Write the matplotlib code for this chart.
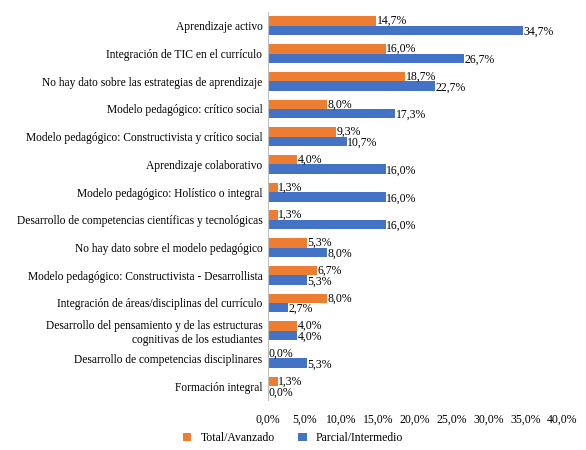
import matplotlib
matplotlib.use("Agg")
import matplotlib.pyplot as plt
import numpy as np
from matplotlib.ticker import FuncFormatter

plt.rcParams['font.family'] = ['Liberation Serif', 'DejaVu Serif']

categories = ["Aprendizaje activo", "Integración de TIC en el currículo",
              "No hay dato sobre las estrategias de aprendizaje", "Modelo pedagógico: crítico social",
              "Modelo pedagógico: Constructivista y crítico social", "Aprendizaje colaborativo",
              "Modelo pedagógico: Holístico o integral",
              "Desarrollo de competencias científicas y tecnológicas",
              "No hay dato sobre el modelo pedagógico",
              "Modelo pedagógico: Constructivista - Desarrollista",
              "Integración de áreas/disciplinas del currículo",
              "Desarrollo del pensamiento y de las estructuras\ncognitivas de los estudiantes",
              "Desarrollo de competencias disciplinares", "Formación integral"]
total = [14.7, 16.0, 18.7, 8.0, 9.3, 4.0, 1.3, 1.3, 5.3, 6.7, 8.0, 4.0, 0.0, 1.3]
parcial = [34.7, 26.7, 22.7, 17.3, 10.7, 16.0, 16.0, 16.0, 8.0, 5.3, 2.7, 4.0, 5.3, 0.0]

fig = plt.figure(figsize=(5.86, 4.5), dpi=100)
ax = fig.add_axes([268/586, 1-400/450, (562-268)/586, (400-12)/450])
y = np.arange(len(categories))
h = 0.34
ax.barh(y - h/2, total, height=h, color='#ED7D31', label='Total/Avanzado')
ax.barh(y + h/2, parcial, height=h, color='#4472C4', label='Parcial/Intermedio')
fmt = lambda v: f"{v:.1f}%".replace('.', ',')
for i in range(len(categories)):
    ax.text(total[i] + 0.1, y[i] - h/2, fmt(total[i]), va='center', ha='left', fontsize=8.5)
    ax.text(parcial[i] + 0.1, y[i] + h/2 + 0.05, fmt(parcial[i]), va='center', ha='left', fontsize=8.5)
ax.set_yticks(y)
ax.set_yticklabels(categories, fontsize=8.3)
ax.set_ylim(len(categories) - 0.5, -0.5)
ax.set_xlim(0, 40)
ax.set_xticks(np.arange(0, 41, 5))
ax.xaxis.set_major_formatter(FuncFormatter(lambda v, p: fmt(v)))
ax.tick_params(axis='x', labelsize=8.5, length=0, pad=10)
ax.tick_params(axis='y', length=0, pad=4)
for s in ['top', 'right', 'bottom']:
    ax.spines[s].set_visible(False)
ax.spines['left'].set_color('#BFBFBF')
fig.legend(loc='center', bbox_to_anchor=(0.5, 1-438/450), ncol=2, frameon=False,
           fontsize=8.5, handlelength=0.7, handleheight=0.7, columnspacing=2)
fig.savefig("out.png", dpi=100)
